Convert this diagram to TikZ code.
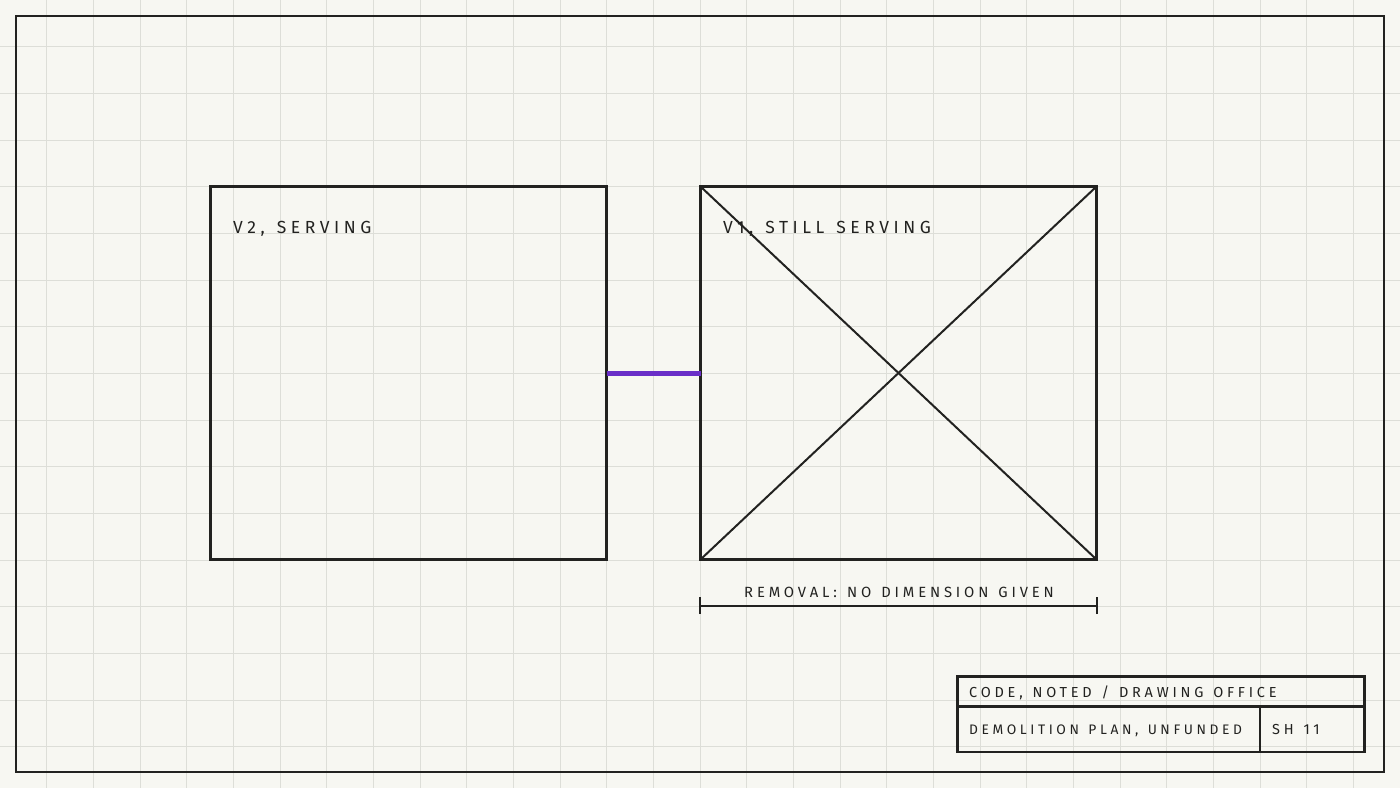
\documentclass[tikz,border=0pt]{standalone}
\usepackage{fontspec}
\setmainfont{Fira Sans}[LetterSpace=26,WordSpace=1.3]
\definecolor{bg}{HTML}{F7F7F2}
\definecolor{gridc}{HTML}{DDDED8}
\definecolor{ink}{HTML}{222220}
\definecolor{violet}{HTML}{6A2FC8}
\tikzset{
  box/.style={draw=ink, line width=3pt, minimum width=396pt, minimum height=373pt, inner sep=0pt, outer sep=0pt, anchor=north west},
  lbl/.style={text=ink, font=\fontsize{17.5}{20}\selectfont, anchor=base west, inner sep=0pt},
  tb/.style={text=ink, font=\fontsize{14.5}{17}\selectfont, anchor=base west, inner sep=0pt},
  cell/.style={draw=ink, line width=2.4pt, inner sep=0pt, outer sep=0pt, anchor=north west},
}
\begin{document}
\begin{tikzpicture}[x=1pt,y=-1pt]
\fill[bg] (0,0) rectangle (1400,788);
\useasboundingbox (0,0) rectangle (1400,788);
\foreach \i in {1,...,29} \draw[gridc, line width=1pt] ({\i*46.667},0) -- ({\i*46.667},788);
\foreach \j in {1,...,16} \draw[gridc, line width=1pt] (0,{\j*46.667}) -- (1400,{\j*46.667});
% frame
\draw[ink, line width=2.2pt] (16,16) rectangle (1384,772);
% boxes
\node[box] (v2) at (210.5,186.5) {};
\node[box] (v1) at (700.5,186.5) {};
\draw[ink, line width=2pt] (v1.north west) -- (v1.south east);
\draw[ink, line width=2pt] (v1.south west) -- (v1.north east);
\node[lbl] (t2) at (233,233) {V2, SERVING};
\node[lbl] (t1) at (723,233) {V1, STILL SERVING};
% connector
\draw[violet, line width=5pt] (v2.east) -- (v1.west);
% dimension
\coordinate (da) at (700,606);
\coordinate (db) at (1097,606);
\draw[ink, line width=1.5pt] (da) -- (db);
\draw[ink, line width=1.5pt] ([yshift=-8]da) -- ([yshift=9]da);
\draw[ink, line width=1.5pt] ([yshift=-8]db) -- ([yshift=9]db);
\node[text=ink, font=\fontsize{14.8}{18}\selectfont, anchor=base, inner sep=0pt] (dim) at (899,597) {REMOVAL: NO DIMENSION GIVEN};
% title block
\node[cell, minimum width=407pt, minimum height=30pt] (tbtop) at (957.5,676.5) {};
\node[cell, minimum width=302.5pt, minimum height=45.5pt] (tbl) at (957.5,706.5) {};
\node[cell, minimum width=104.5pt, minimum height=45.5pt] (tbr) at (1260,706.5) {};
\node[tb] (c1) at (969,697) {CODE, NOTED / DRAWING OFFICE};
\node[tb, font=\fontsize{13.8}{17}\selectfont] (c2) at (969,734) {DEMOLITION PLAN, UNFUNDED};
\node[tb] (c3) at (1272,734) {SH 11};
\end{tikzpicture}
\end{document}
